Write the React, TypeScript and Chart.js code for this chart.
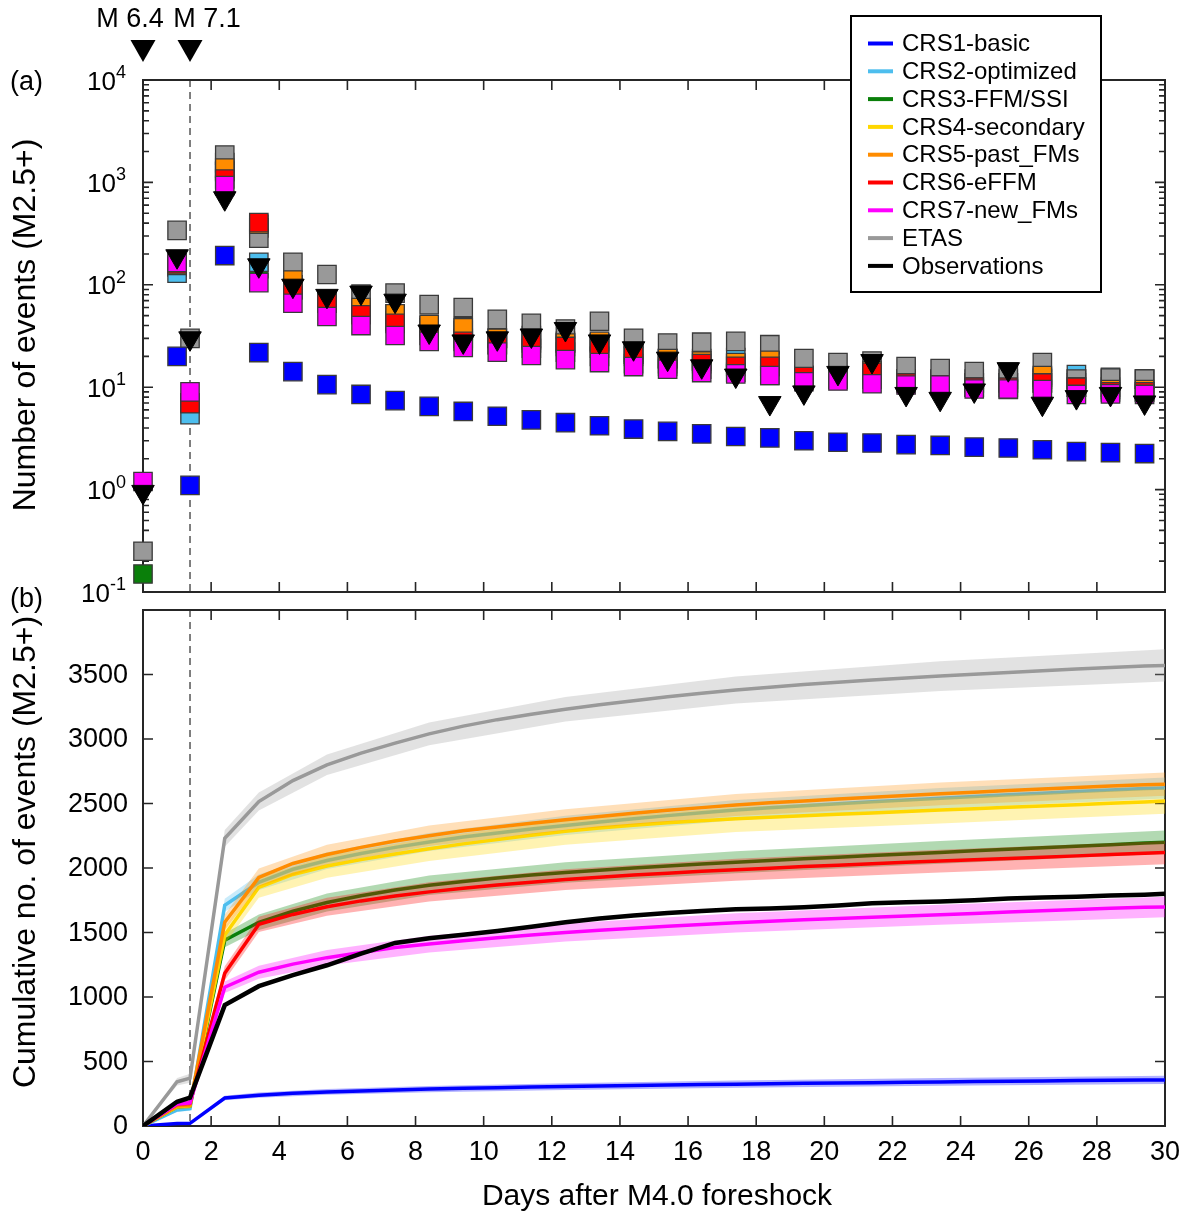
import React, { useEffect, useRef } from 'react';
import { Chart, registerables } from 'chart.js';

Chart.register(...registerables);

const FONT = '"Liberation Sans", Arial, Helvetica, sans-serif';
const AXIS = '#262626';
const W = 1187;
const H = 1217;

// ---------- Panel (a): number of events per time bin (log scale) ----------
const DAYS = [0, 1, 1.38, 2.4, 3.4, 4.4, 5.4, 6.4, 7.4, 8.4, 9.4, 10.4, 11.4, 12.4, 13.4, 14.4, 15.4, 16.4, 17.4, 18.4, 19.4, 20.4, 21.4, 22.4, 23.4, 24.4, 25.4, 26.4, 27.4, 28.4, 29.4];

const CRS1_N = [null, 20, 1.1, 193, 21.8, 14.2, 10.6, 8.5, 7.4, 6.5, 5.8, 5.2, 4.8, 4.5, 4.2, 3.9, 3.7, 3.5, 3.3, 3.2, 3.0, 2.9, 2.85, 2.75, 2.7, 2.6, 2.55, 2.45, 2.35, 2.3, 2.25];
const CRS2_N = [null, 130, 5.4, 1560, 166, 100, 68, 55, 52, 40, 39, 30, 29, 27, 27, 21, 19, 19, 19.5, 18, 13, 12.5, 14, 12, 11.5, 11, 11, 12.5, 13.3, 12.5, 12];
const CRS3_N = [0.15, 150, 7, 1270, 144, 90, 66, 52, 44, 36, 30, 26, 24, 22, 20, 17, 16, 15, 14, 13, 13, 13, 12, 12, 12, 12, 12, 12, 12, 12, 12];
const CRS4_N = [null, 150, 7, 1300, 360, 100, 66, 52, 45, 38, 36, 30, 32, 28, 27, 22, 19, 18, 17, 16, 13, 12.5, 13, 12, 12, 11, 11, 11, 11, 10, 9];
const CRS5_N = [null, 155, 7, 1380, 390, 111, 70, 60, 52, 41, 38, 30, 30, 27, 28, 21, 19, 18, 17.4, 18.3, 12.5, 12, 14.5, 11, 10.5, 10, 9.5, 13, 10, 9.5, 9.5];
const CRS6_N = [null, 160, 6.9, 1080, 405, 89, 66, 51, 42, 32, 28, 26, 27, 25, 24, 20, 17, 17, 16, 16, 12.7, 12, 14, 11, 10.5, 10, 10, 11, 10, 9, 9];
const CRS7_N = [1.2, 165, 9, 930, 105, 66, 49, 40, 32, 28, 24.5, 22, 20.4, 18.6, 17.4, 15.9, 15, 13.9, 13.5, 13, 11.3, 11.5, 10.8, 10.5, 10.5, 9.6, 9.6, 9.5, 8.5, 8.6, 8.5];
const ETAS_N = [0.25, 340, 30, 1850, 285, 166, 126, 81, 83, 64, 60, 46, 42, 37, 44, 30, 27, 27.5, 28, 26, 19, 17.4, 18, 15.9, 15.2, 14.2, 14, 17.4, 12, 12.3, 12];
const OBS_N = [0.95, 190, 30, 700, 155, 98, 78, 84, 70, 35, 28, 30, 32, 37, 28, 24, 19, 16, 13, 7, 8.9, 13.8, 18, 8.6, 7.7, 9.3, 15, 6.9, 8, 8.6, 7.1];

// ---------- Panel (b): cumulative number of events ----------
const CUM_DAYS = [0, 1, 1.38, 2.4, 3.4, 4.4, 5.4, 6.4, 7.4, 8.4, 9.4, 10.4, 11.4, 12.4, 13.4, 14.4, 15.4, 16.4, 17.4, 18.4, 19.4, 20.4, 21.4, 22.4, 23.4, 24.4, 25.4, 26.4, 27.4, 28.4, 29.4, 30];

const CRS1_CUM = [0, 20, 21, 217, 239, 253, 264, 272, 279, 286, 292, 297, 302, 306, 310, 314, 318, 321, 324, 328, 331, 334, 336, 339, 342, 344, 347, 349, 352, 354, 356, 357];
const CRS2_CUM = [0, 124, 135, 1711, 1889, 1990, 2058, 2113, 2160, 2202, 2240, 2272, 2302, 2330, 2357, 2382, 2406, 2428, 2449, 2467, 2483, 2498, 2513, 2527, 2541, 2554, 2567, 2580, 2593, 2605, 2616, 2620];
const CRS3_CUM = [0, 150, 157, 1440, 1579, 1665, 1732, 1785, 1830, 1866, 1896, 1922, 1945, 1965, 1983, 2000, 2016, 2031, 2045, 2058, 2071, 2084, 2097, 2109, 2121, 2133, 2145, 2157, 2169, 2181, 2193, 2200];
const CRS4_CUM = [0, 150, 157, 1480, 1850, 1950, 2015, 2065, 2108, 2150, 2187, 2220, 2254, 2284, 2310, 2332, 2350, 2366, 2381, 2394, 2405, 2416, 2427, 2438, 2449, 2459, 2470, 2480, 2491, 2501, 2512, 2520];
const CRS5_CUM = [0, 155, 162, 1579, 1927, 2035, 2105, 2160, 2210, 2250, 2288, 2318, 2347, 2374, 2400, 2424, 2447, 2468, 2488, 2505, 2520, 2535, 2549, 2562, 2575, 2588, 2600, 2612, 2624, 2636, 2645, 2650];
const CRS6_CUM = [0, 170, 177, 1184, 1563, 1640, 1700, 1745, 1783, 1815, 1843, 1868, 1890, 1910, 1928, 1945, 1960, 1974, 1987, 1999, 2011, 2022, 2033, 2044, 2054, 2064, 2074, 2084, 2094, 2104, 2114, 2120];
const CRS7_CUM = [0, 170, 180, 1076, 1192, 1255, 1305, 1345, 1383, 1410, 1436, 1460, 1481, 1500, 1517, 1533, 1548, 1562, 1575, 1587, 1598, 1608, 1618, 1628, 1638, 1648, 1658, 1668, 1678, 1688, 1695, 1698];
const ETAS_CUM = [0, 343, 371, 2230, 2515, 2678, 2800, 2890, 2968, 3040, 3100, 3150, 3192, 3230, 3265, 3297, 3327, 3354, 3380, 3402, 3422, 3440, 3457, 3473, 3488, 3502, 3516, 3530, 3543, 3555, 3566, 3570];
const OBS_CUM = [0, 188, 220, 937, 1084, 1169, 1246, 1337, 1419, 1455, 1483, 1512, 1544, 1580, 1608, 1632, 1651, 1667, 1680, 1687, 1696, 1709, 1726, 1734, 1741, 1750, 1764, 1771, 1778, 1786, 1793, 1800];

// uncertainty bands (lower / upper bounds)
const BAND_DAYS = [0, 1, 1.38, 2.4, 3.4, 5.4, 8.4, 12.4, 17.4, 23.4, 30];
const CRS1_LO = [0, 15, 16, 199, 219, 242, 262, 280, 296, 312, 325];
const CRS1_HI = [0, 25, 26, 235, 259, 286, 310, 332, 352, 372, 389];
const CRS2_LO = [0, 109, 118, 1661, 1829, 1993, 2132, 2255, 2371, 2461, 2538];
const CRS2_HI = [0, 139, 152, 1761, 1949, 2123, 2272, 2405, 2527, 2621, 2702];
const CRS3_LO = [0, 132, 137, 1385, 1519, 1662, 1791, 1885, 1960, 2033, 2110];
const CRS3_HI = [0, 168, 177, 1495, 1639, 1802, 1941, 2045, 2130, 2209, 2290];
const CRS4_LO = [0, 128, 133, 1410, 1770, 1925, 2055, 2180, 2280, 2345, 2420];
const CRS4_HI = [0, 170, 178, 1545, 1925, 2095, 2235, 2370, 2470, 2545, 2615];
const CRS5_LO = [0, 135, 140, 1519, 1857, 2030, 2170, 2292, 2403, 2487, 2560];
const CRS5_HI = [0, 175, 184, 1639, 1997, 2180, 2330, 2456, 2573, 2663, 2740];
const CRS6_LO = [0, 152, 157, 1129, 1503, 1630, 1740, 1830, 1902, 1966, 2030];
const CRS6_HI = [0, 188, 197, 1239, 1623, 1770, 1890, 1990, 2072, 2142, 2210];
const CRS7_LO = [0, 155, 163, 1031, 1142, 1245, 1345, 1430, 1500, 1560, 1618];
const CRS7_HI = [0, 185, 197, 1121, 1242, 1365, 1475, 1570, 1650, 1716, 1778];
const ETAS_LO = [0, 313, 336, 2165, 2445, 2720, 2952, 3135, 3275, 3373, 3445];
const ETAS_HI = [0, 373, 406, 2295, 2585, 2880, 3128, 3325, 3485, 3603, 3695];

// ---------- ticks / annotations ----------
const X_TICKS = [0, 2, 4, 6, 8, 10, 12, 14, 16, 18, 20, 22, 24, 26, 28, 30];
const X_TICK_LABELS = ['0', '2', '4', '6', '8', '10', '12', '14', '16', '18', '20', '22', '24', '26', '28', '30'];
const Y_TICKS_CUM = [0, 500, 1000, 1500, 2000, 2500, 3000, 3500];
const Y_TICK_LABELS_CUM = ['0', '500', '1000', '1500', '2000', '2500', '3000', '3500'];
const LOG_EXPONENTS = [-1, 0, 1, 2, 3, 4];
const MINOR_MULTS = [2, 3, 4, 5, 6, 7, 8, 9];
const MAINSHOCK_DAYS = [0, 1.38];
const MAINSHOCK_LABELS = ['M 6.4', 'M 7.1'];

const SERIES = [
  { label: 'CRS1-basic', color: '#0000FF', band: 'rgba(0,0,255,0.3)', n: CRS1_N, cum: CRS1_CUM, lo: CRS1_LO, hi: CRS1_HI, rankA: 1 },
  { label: 'CRS2-optimized', color: '#4DBEEE', band: 'rgba(77,190,238,0.3)', n: CRS2_N, cum: CRS2_CUM, lo: CRS2_LO, hi: CRS2_HI, rankA: 6 },
  { label: 'CRS3-FFM/SSI', color: '#0A7F0A', band: 'rgba(0,128,0,0.3)', n: CRS3_N, cum: CRS3_CUM, lo: CRS3_LO, hi: CRS3_HI, rankA: 8 },
  { label: 'CRS4-secondary', color: '#FFD700', band: 'rgba(255,215,0,0.3)', n: CRS4_N, cum: CRS4_CUM, lo: CRS4_LO, hi: CRS4_HI, rankA: 7 },
  { label: 'CRS5-past_FMs', color: '#FF8C00', band: 'rgba(255,140,0,0.28)', n: CRS5_N, cum: CRS5_CUM, lo: CRS5_LO, hi: CRS5_HI, rankA: 4 },
  { label: 'CRS6-eFFM', color: '#FF0000', band: 'rgba(255,0,0,0.3)', n: CRS6_N, cum: CRS6_CUM, lo: CRS6_LO, hi: CRS6_HI, rankA: 3 },
  { label: 'CRS7-new_FMs', color: '#FF00FF', band: 'rgba(255,0,255,0.3)', n: CRS7_N, cum: CRS7_CUM, lo: CRS7_LO, hi: CRS7_HI, rankA: 2 },
  { label: 'ETAS', color: '#999999', band: 'rgba(150,150,150,0.28)', n: ETAS_N, cum: ETAS_CUM, lo: ETAS_LO, hi: ETAS_HI, rankA: 5 },
];
const OBS = { label: 'Observations', color: '#000000', n: OBS_N, cum: OBS_CUM, rankA: 0 };

function pts(xs: number[], ys: (number | null)[]) {
  return xs.map((x, i) => ({ x, y: ys[i] }));
}

function dashedMainshock(ctx: CanvasRenderingContext2D, chart: any) {
  const a = chart.chartArea;
  const dx = chart.scales.x.getPixelForValue(MAINSHOCK_DAYS[1]);
  ctx.save();
  ctx.strokeStyle = '#555';
  ctx.lineWidth = 1.5;
  ctx.setLineDash([7, 5]);
  ctx.beginPath();
  ctx.moveTo(dx, a.top);
  ctx.lineTo(dx, a.bottom);
  ctx.stroke();
  ctx.restore();
}

function frameAndXTicks(ctx: CanvasRenderingContext2D, chart: any) {
  const a = chart.chartArea;
  const xs = chart.scales.x;
  ctx.save();
  ctx.strokeStyle = AXIS;
  ctx.lineWidth = 2;
  ctx.strokeRect(a.left, a.top, a.right - a.left, a.bottom - a.top);
  ctx.lineWidth = 1.6;
  ctx.beginPath();
  for (const v of X_TICKS) {
    const p = xs.getPixelForValue(v);
    ctx.moveTo(p, a.bottom);
    ctx.lineTo(p, a.bottom - 10);
    ctx.moveTo(p, a.top);
    ctx.lineTo(p, a.top + 10);
  }
  ctx.stroke();
  ctx.restore();
}

function rotatedText(ctx: CanvasRenderingContext2D, text: string, x: number, y: number, size: number) {
  ctx.save();
  ctx.translate(x, y);
  ctx.rotate(-Math.PI / 2);
  ctx.font = `${size}px ${FONT}`;
  ctx.fillStyle = '#000';
  ctx.textAlign = 'center';
  ctx.textBaseline = 'middle';
  ctx.fillText(text, 0, 0);
  ctx.restore();
}

const panelAPlugin = {
  id: 'panelA',
  beforeDatasetsDraw(chart: any) {
    const ctx: CanvasRenderingContext2D = chart.ctx;
    const a = chart.chartArea;
    const ys = chart.scales.y;
    dashedMainshock(ctx, chart);
    frameAndXTicks(ctx, chart);
    ctx.save();
    ctx.strokeStyle = AXIS;
    ctx.lineWidth = 1.6;
    ctx.beginPath();
    for (const e of LOG_EXPONENTS) {
      const p = ys.getPixelForValue(Math.pow(10, e));
      ctx.moveTo(a.left, p); ctx.lineTo(a.left + 10, p);
      ctx.moveTo(a.right, p); ctx.lineTo(a.right - 10, p);
      if (e < LOG_EXPONENTS[LOG_EXPONENTS.length - 1]) {
        for (const m of MINOR_MULTS) {
          const q = ys.getPixelForValue(m * Math.pow(10, e));
          ctx.moveTo(a.left, q); ctx.lineTo(a.left + 6, q);
          ctx.moveTo(a.right, q); ctx.lineTo(a.right - 6, q);
        }
      }
    }
    ctx.stroke();
    // tick labels 10^e
    ctx.fillStyle = '#000';
    ctx.textAlign = 'left';
    ctx.textBaseline = 'alphabetic';
    const right = a.left - 17;
    for (const e of LOG_EXPONENTS) {
      const p = ys.getPixelForValue(Math.pow(10, e));
      const exp = String(e);
      ctx.font = `18px ${FONT}`;
      const ew = ctx.measureText(exp).width;
      ctx.font = `26px ${FONT}`;
      const bw = ctx.measureText('10').width;
      ctx.fillText('10', right - ew - bw, p + 9.5);
      ctx.font = `18px ${FONT}`;
      ctx.fillText(exp, right - ew, p - 2);
    }
    // panel letter and y title
    ctx.font = `27px ${FONT}`;
    ctx.textBaseline = 'middle';
    ctx.fillText('(a)', 10, 83);
    ctx.restore();
    rotatedText(ctx, 'Number of events (M2.5+)', 26, 325, 32);
  },
  afterDraw(chart: any) {
    const ctx: CanvasRenderingContext2D = chart.ctx;
    const xs = chart.scales.x;
    ctx.save();
    // main shock markers
    MAINSHOCK_DAYS.forEach((d, i) => {
      const px = xs.getPixelForValue(d);
      ctx.fillStyle = '#000';
      ctx.beginPath();
      ctx.moveTo(px - 12.5, 40);
      ctx.lineTo(px + 12.5, 40);
      ctx.lineTo(px, 62);
      ctx.closePath();
      ctx.fill();
      ctx.font = `27px ${FONT}`;
      ctx.textAlign = 'center';
      ctx.textBaseline = 'middle';
      ctx.fillText(MAINSHOCK_LABELS[i], px + (i === 0 ? -13 : 17), 20);
    });
    // legend
    const items = [...SERIES.map((s) => ({ label: s.label, color: s.color })), { label: OBS.label, color: OBS.color }];
    ctx.fillStyle = '#fff';
    ctx.fillRect(851, 16, 250, 276);
    ctx.strokeStyle = '#000';
    ctx.lineWidth = 2;
    ctx.strokeRect(851, 16, 250, 276);
    ctx.font = `24px ${FONT}`;
    ctx.textAlign = 'left';
    ctx.textBaseline = 'middle';
    items.forEach((it, i) => {
      const y = 43.5 + i * 27.8;
      ctx.strokeStyle = it.color;
      ctx.lineWidth = 4;
      ctx.beginPath();
      ctx.moveTo(868, y);
      ctx.lineTo(893, y);
      ctx.stroke();
      ctx.fillStyle = '#000';
      ctx.fillText(it.label, 902, y + 1);
    });
    ctx.restore();
  },
};

const panelBPlugin = {
  id: 'panelB',
  beforeDatasetsDraw(chart: any) {
    const ctx: CanvasRenderingContext2D = chart.ctx;
    const a = chart.chartArea;
    const xs = chart.scales.x;
    const ys = chart.scales.y;
    dashedMainshock(ctx, chart);
    frameAndXTicks(ctx, chart);
    ctx.save();
    ctx.strokeStyle = AXIS;
    ctx.lineWidth = 1.6;
    ctx.beginPath();
    for (const v of Y_TICKS_CUM) {
      const p = ys.getPixelForValue(v);
      ctx.moveTo(a.left, p); ctx.lineTo(a.left + 10, p);
      ctx.moveTo(a.right, p); ctx.lineTo(a.right - 10, p);
    }
    ctx.stroke();
    ctx.fillStyle = '#000';
    ctx.font = `27px ${FONT}`;
    ctx.textBaseline = 'middle';
    ctx.textAlign = 'right';
    Y_TICKS_CUM.forEach((v, i) => {
      ctx.fillText(Y_TICK_LABELS_CUM[i], a.left - 15, ys.getPixelForValue(v) + 1);
    });
    ctx.textAlign = 'center';
    X_TICKS.forEach((v, i) => {
      ctx.fillText(X_TICK_LABELS[i], xs.getPixelForValue(v), a.bottom + 27);
    });
    ctx.font = `30px ${FONT}`;
    ctx.fillText('Days after M4.0 foreshock', (a.left + a.right) / 2 + 3, a.bottom + 71);
    ctx.font = `27px ${FONT}`;
    ctx.textAlign = 'left';
    ctx.fillText('(b)', 10, a.top - 10);
    ctx.restore();
    rotatedText(ctx, 'Cumulative no. of events (M2.5+)', 26, 852, 32);
  },
};

export default function App() {
  const refA = useRef<HTMLCanvasElement>(null);
  const refB = useRef<HTMLCanvasElement>(null);

  useEffect(() => {
    const dsA: any[] = SERIES.map((s) => ({
      label: s.label,
      data: pts(DAYS, s.n),
      pointStyle: 'rect',
      pointRadius: 13,
      backgroundColor: s.color,
      pointBackgroundColor: s.color,
      borderColor: '#3a3a3a',
      pointBorderColor: '#3a3a3a',
      pointBorderWidth: 1.3,
      showLine: false,
      clip: false,
      order: s.rankA + 1,
    }));
    dsA.push({
      label: OBS.label,
      data: pts(DAYS, OBS.n),
      pointStyle: 'triangle',
      pointRotation: 180,
      pointRadius: 13,
      backgroundColor: OBS.color,
      pointBackgroundColor: OBS.color,
      pointBorderColor: OBS.color,
      pointBorderWidth: 1,
      showLine: false,
      clip: false,
      order: OBS.rankA,
    });

    const chartA = new Chart(refA.current as HTMLCanvasElement, {
      type: 'scatter',
      data: { datasets: dsA },
      options: {
        animation: false,
        responsive: false,
        maintainAspectRatio: false,
        events: [],
        layout: { padding: { left: 143, top: 80, right: W - 1165, bottom: H - 592 } },
        scales: {
          x: { type: 'linear', min: 0, max: 30, display: false },
          y: { type: 'logarithmic', min: 0.1, max: 10000, display: false },
        },
        plugins: { legend: { display: false }, tooltip: { enabled: false } },
      },
      plugins: [panelAPlugin],
    } as any);

    const dsB: any[] = [];
    let ord = 1000;
    for (const s of SERIES) {
      dsB.push({
        label: s.label + ' lower',
        data: pts(BAND_DAYS, s.lo),
        borderWidth: 0,
        borderColor: 'rgba(0,0,0,0)',
        pointRadius: 0,
        fill: false,
        order: ord--,
      });
      dsB.push({
        label: s.label + ' upper',
        data: pts(BAND_DAYS, s.hi),
        borderWidth: 0,
        borderColor: 'rgba(0,0,0,0)',
        backgroundColor: s.band,
        pointRadius: 0,
        fill: '-1',
        order: ord--,
      });
      dsB.push({
        label: s.label,
        data: pts(CUM_DAYS, s.cum),
        borderColor: s.color,
        borderWidth: 3.5,
        pointRadius: 0,
        fill: false,
        order: ord--,
      });
    }
    dsB.push({
      label: OBS.label,
      data: pts(CUM_DAYS, OBS.cum),
      borderColor: OBS.color,
      borderWidth: 4.5,
      pointRadius: 0,
      fill: false,
      order: ord--,
    });

    const chartB = new Chart(refB.current as HTMLCanvasElement, {
      type: 'line',
      data: { datasets: dsB },
      options: {
        animation: false,
        responsive: false,
        maintainAspectRatio: false,
        events: [],
        layout: { padding: { left: 143, top: 610, right: W - 1165, bottom: H - 1126 } },
        scales: {
          x: { type: 'linear', min: 0, max: 30, display: false },
          y: { type: 'linear', min: 0, max: 4000, display: false },
        },
        elements: { line: { tension: 0 } },
        plugins: { legend: { display: false }, tooltip: { enabled: false } },
      },
      plugins: [panelBPlugin],
    } as any);

    return () => {
      chartA.destroy();
      chartB.destroy();
    };
  }, []);

  return (
    <div style={{ position: 'absolute', left: 0, top: 0, width: W, height: H, background: '#fff' }}>
      <canvas ref={refB} width={W} height={H} style={{ position: 'absolute', left: 0, top: 0 }} />
      <canvas ref={refA} width={W} height={H} style={{ position: 'absolute', left: 0, top: 0 }} />
    </div>
  );
}
